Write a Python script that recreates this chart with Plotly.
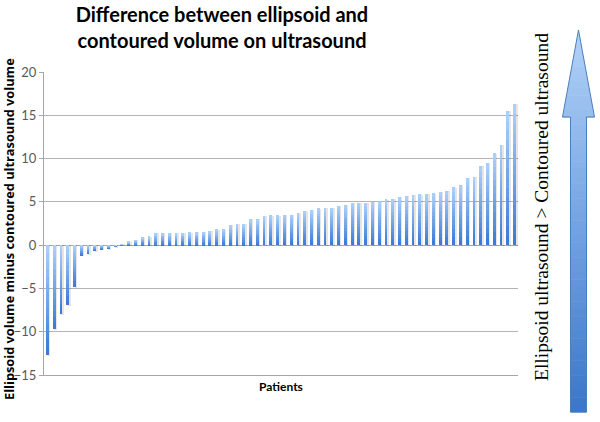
import numpy as np
import plotly.graph_objects as go

# ---------------- data ----------------
patients = list(range(1, 71))
differences = [
    -12.7, -9.7, -7.95, -6.9, -4.84, -1.15, -0.96, -0.6, -0.46, -0.38,
    -0.15, 0.1, 0.38, 0.58, 0.88, 0.96, 1.35, 1.35, 1.35, 1.35,
    1.35, 1.46, 1.48, 1.5, 1.62, 1.8, 1.8, 2.27, 2.42, 2.42,
    3.0, 2.98, 3.35, 3.42, 3.42, 3.46, 3.48, 3.7, 3.92, 4.04,
    4.23, 4.31, 4.31, 4.54, 4.62, 4.88, 4.88, 4.88, 4.96, 5.04,
    5.27, 5.35, 5.58, 5.65, 5.77, 5.85, 5.88, 5.96, 6.12, 6.27,
    6.65, 6.96, 7.8, 7.88, 9.12, 9.5, 10.58, 11.54, 15.5, 16.3,
]
y_ticks = [-15, -10, -5, 0, 5, 10, 15, 20]
title_text = "Difference between ellipsoid and<br>contoured volume on ultrasound"
y_title = "Ellipsoid volume minus contoured ultrasound volume"
x_title = "Patients"
arrow_text = "Ellipsoid ultrasound > Contoured ultrasound"

# ---------------- layout constants ----------------
W, H = 600, 422
L, R, T, B = 44, 82, 72, 47
PW, PH = W - L - R, H - T - B

def px_x(px):
    return (px - L) / PW

def px_y(py):
    return (H - B - py) / PH

def mix(c1, c2, t):
    return "rgb(%d,%d,%d)" % tuple(round(a + (b - a) * t) for a, b in zip(c1, c2))

DARK = (60, 124, 214)
LIGHT = (170, 206, 250)
BAR_W = 0.42

fig = go.Figure()

v = np.array(differences)
lo = np.minimum(0, v)
hi = np.maximum(0, v)
span = hi - lo

# soft grey shadow, slightly to the right and below each bar
fig.add_bar(
    x=patients, y=span + 0.15, base=lo - 0.15,
    marker=dict(color="rgba(0,0,0,0.10)", line=dict(width=0)),
    width=BAR_W, offset=-BAR_W / 2 + 0.22,
    showlegend=False, hoverinfo="skip",
)

# gradient bars: each bar split into segments, dark at bottom, light at top
NSEG = 14
for i in range(NSEG):
    t = i / (NSEG - 1)
    fig.add_bar(
        x=patients,
        y=span / NSEG * 1.02,
        base=lo + span * i / NSEG,
        marker=dict(color=mix(DARK, LIGHT, t), line=dict(width=0)),
        width=BAR_W,
        showlegend=False,
        hoverinfo="skip",
    )

# ---------------- right-hand block arrow (decoration) ----------------
shapes = []
tip_y, head_y, bot_y = 30, 117, 412
tip_x = 578.5
head_l, head_r = 562.5, 594.5
shaft_l, shaft_r = 570.5, 586.5
A_TOP = (178, 210, 248)
A_BOT = (58, 118, 202)

def arrow_col(py):
    return mix(A_TOP, A_BOT, (py - tip_y) / (bot_y - tip_y))

NH = 12
for i in range(NH):
    y0 = tip_y + (head_y - tip_y) * i / NH
    y1 = tip_y + (head_y - tip_y) * (i + 1) / NH
    f0 = (y0 - tip_y) / (head_y - tip_y)
    f1 = (y1 - tip_y) / (head_y - tip_y)
    xl0 = tip_x + (head_l - tip_x) * f0
    xr0 = tip_x + (head_r - tip_x) * f0
    xl1 = tip_x + (head_l - tip_x) * f1
    xr1 = tip_x + (head_r - tip_x) * f1
    path = "M %f,%f L %f,%f L %f,%f L %f,%f Z" % (
        px_x(xl0), px_y(y0), px_x(xr0), px_y(y0),
        px_x(xr1), px_y(y1 + 0.5), px_x(xl1), px_y(y1 + 0.5))
    shapes.append(dict(type="path", xref="paper", yref="paper", path=path,
                       fillcolor=arrow_col((y0 + y1) / 2), line=dict(width=0),
                       layer="above"))
NS = 40
for i in range(NS):
    y0 = head_y + (bot_y - head_y) * i / NS
    y1 = head_y + (bot_y - head_y) * (i + 1) / NS
    shapes.append(dict(type="rect", xref="paper", yref="paper",
                       x0=px_x(shaft_l), x1=px_x(shaft_r),
                       y0=px_y(y0), y1=px_y(y1 + 0.5),
                       fillcolor=arrow_col((y0 + y1) / 2), line=dict(width=0),
                       layer="above"))
outline = "M %f,%f L %f,%f L %f,%f L %f,%f L %f,%f L %f,%f L %f,%f Z" % (
    px_x(tip_x), px_y(tip_y),
    px_x(head_r), px_y(head_y),
    px_x(shaft_r), px_y(head_y),
    px_x(shaft_r), px_y(bot_y),
    px_x(shaft_l), px_y(bot_y),
    px_x(shaft_l), px_y(head_y),
    px_x(head_l), px_y(head_y))
shapes.append(dict(type="path", xref="paper", yref="paper", path=outline,
                   line=dict(color="rgb(74,126,187)", width=1), layer="above"))

annotations = [
    dict(text="<b>%s</b>" % y_title, textangle=-90, xref="paper", yref="paper",
         x=px_x(9), y=px_y(229), xanchor="center", yanchor="middle", showarrow=False,
         font=dict(family="Open Sans, Lato, sans-serif", size=12.8, color="#000000")),
    dict(text=arrow_text, textangle=-90, xref="paper", yref="paper",
         x=px_x(542), y=px_y(207), xanchor="center", yanchor="middle", showarrow=False,
         font=dict(family="Liberation Serif, Times New Roman, serif", size=19.5, color="#000000")),
]

fig.update_layout(
    width=W, height=H,
    margin=dict(l=L, r=R, t=T, b=B, pad=0),
    paper_bgcolor="white", plot_bgcolor="white",
    barmode="overlay",
    bargap=0,
    title=dict(text="<b>%s</b>" % title_text, xref="container", yref="container",
               x=222 / W, xanchor="center", y=1 - 22 / H, yanchor="middle",
               font=dict(family="Lato, Open Sans, sans-serif", size=20, color="#000000")),
    xaxis=dict(range=[0.5, len(patients) + 0.5], showticklabels=False, ticks="",
               showgrid=False, zeroline=False, showline=True, linecolor="#a6a6a6",
               linewidth=1, title=dict(text="<b>%s</b>" % x_title, standoff=7,
                                        font=dict(family="Lato, Open Sans, sans-serif",
                                                  size=12, color="#000000"))),
    yaxis=dict(range=[-15, 20], tickvals=y_ticks, ticks="outside", ticklen=4,
               tickcolor="#a6a6a6", showline=True, linecolor="#a6a6a6", linewidth=1,
               showgrid=True, gridcolor="#b4b4b4", gridwidth=1,
               zeroline=True, zerolinecolor="#a6a6a6", zerolinewidth=1,
               tickfont=dict(family="Lato, Open Sans, sans-serif", size=13, color="#595959")),
    shapes=shapes,
    annotations=annotations,
)

fig.write_html("out.html", config={"displayModeBar": False},
               post_script="document.body.style.margin='0px';document.body.style.overflow='hidden';")
